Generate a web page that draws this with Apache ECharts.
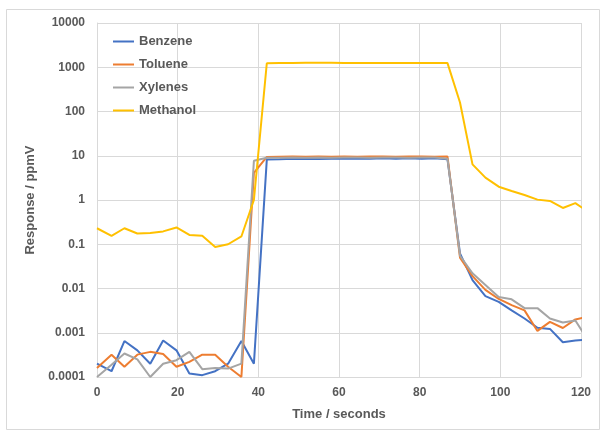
<!DOCTYPE html>
<html>
<head>
<meta charset="utf-8">
<script src="https://cdn.jsdelivr.net/npm/echarts@6/dist/echarts.min.js"></script>
<style>html,body{margin:0;padding:0;background:#fff}#chart{width:600px;height:430px}</style>
</head>
<body>
<div id="chart"></div>
<script>
const times = [0, 3.6, 6.8, 10.0, 13.2, 16.4, 19.7, 22.9, 26.1, 29.3, 32.5, 35.8, 38.9,
  42.1, 45.3, 48.5, 51.7, 54.9, 58.1, 61.3, 64.5, 67.7, 70.9, 74.1, 77.3, 80.5, 83.7, 86.9,
  90.0, 93.1, 96.3, 99.6, 102.8, 106.0, 109.2, 112.3, 115.5, 118.6, 121.8];

const benzene = [0.0002, 0.000135, 0.00065, 0.0004, 0.0002, 0.00067, 0.0004, 0.00012, 0.00011, 0.000135, 0.0002, 0.00065, 0.0002,
  8.2, 8.3, 8.6, 8.4, 8.4, 8.6, 8.6, 8.7, 8.6, 8.8, 8.5, 8.8, 8.5, 8.8, 8.3,
  0.062, 0.0155, 0.0067, 0.005, 0.0032, 0.0021, 0.0013, 0.00122, 0.00061, 0.00067, 0.0007];

const toluene = [0.00016, 0.00032, 0.00017, 0.00032, 0.00037, 0.00033, 0.00017, 0.00022, 0.00032, 0.00032, 0.00017, 0.0001, 4.1,
  9.4, 9.5, 9.6, 9.5, 9.6, 9.5, 9.6, 9.5, 9.6, 9.6, 9.5, 9.6, 9.6, 9.5, 9.6,
  0.05, 0.019, 0.0093, 0.0058, 0.0042, 0.0032, 0.0011, 0.00176, 0.00128, 0.002, 0.0023];

const xylenes = [0.0001, 0.00019, 0.00034, 0.00025, 0.0001, 0.0002, 0.00024, 0.00037, 0.00015, 0.00016, 0.000155, 0.0002, 7.7,
  9.0, 9.0, 9.1, 9.0, 9.1, 9.0, 9.1, 9.1, 9.0, 9.1, 9.1, 9.0, 9.1, 9.1, 8.6,
  0.055, 0.022, 0.012, 0.0064, 0.0057, 0.0036, 0.0036, 0.0021, 0.0017, 0.0019, 0.00066];

const methanol = [0.23, 0.155, 0.23, 0.175, 0.18, 0.195, 0.24, 0.162, 0.155, 0.087, 0.1, 0.15, 1.0,
  1230, 1240, 1240, 1260, 1260, 1260, 1250, 1240, 1240, 1240, 1240, 1240, 1250, 1240, 1240,
  160, 6.4, 3.2, 2.0, 1.6, 1.3, 1.02, 0.95, 0.66, 0.85, 0.54];

const seriesNames = ['Benzene', 'Toluene', 'Xylenes', 'Methanol'];
const seriesColors = ['#4472C4', '#ED7D31', '#A5A5A5', '#FFC000'];
const yTickLabels = ['0.0001', '0.001', '0.01', '0.1', '1', '10', '100', '1000', '10000'];
const xTitle = 'Time / seconds';
const yTitle = 'Response / ppmV';

const allValues = [benzene, toluene, xylenes, methanol];
const font = 'Liberation Sans';
const textColor = '#595959';
const gridColor = '#D9D9D9';

const chart = echarts.init(document.getElementById('chart'), null, {renderer: 'canvas'});
chart.setOption({
  animation: false,
  backgroundColor: '#fff',
  graphic: [{
    type: 'rect', shape: {x: 6.5, y: 9.5, width: 593, height: 420},
    style: {fill: 'none', stroke: gridColor, lineWidth: 1}, silent: true
  }],
  grid: {left: 97, right: 19, top: 23, bottom: 53, containLabel: false},
  legend: {
    orient: 'vertical', left: 108, top: 30, itemGap: 10,
    itemWidth: 21, itemHeight: 2, icon: 'rect',
    textStyle: {fontFamily: font, fontSize: 13, fontWeight: 'bold', color: textColor},
    data: seriesNames
  },
  xAxis: {
    type: 'value', min: 0, max: 120, interval: 20,
    name: xTitle, nameLocation: 'middle', nameGap: 31,
    nameTextStyle: {fontFamily: font, fontSize: 13, fontWeight: 'bold', color: textColor},
    axisLine: {show: true, lineStyle: {color: gridColor, width: 1}},
    axisTick: {show: false},
    axisLabel: {fontFamily: font, fontSize: 12, fontWeight: 'bold', color: textColor, margin: 10},
    splitLine: {show: true, lineStyle: {color: gridColor, width: 1}}
  },
  yAxis: {
    type: 'log', logBase: 10, min: 0.0001, max: 10000,
    name: yTitle, nameLocation: 'middle', nameGap: 60, nameRotate: 90,
    nameTextStyle: {fontFamily: font, fontSize: 13, fontWeight: 'bold', color: textColor},
    axisLine: {show: true, lineStyle: {color: gridColor, width: 1}},
    axisTick: {show: false},
    axisLabel: {
      fontFamily: font, fontSize: 12, fontWeight: 'bold', color: textColor, margin: 12,
      formatter: function (v) {
        const idx = Math.round(Math.log10(v)) + 4;
        return yTickLabels[idx] !== undefined ? yTickLabels[idx] : '';
      }
    },
    splitLine: {show: true, lineStyle: {color: gridColor, width: 1}}
  },
  series: seriesNames.map(function (name, i) {
    return {
      name: name, type: 'line', showSymbol: false, symbol: 'none', clip: true,
      color: seriesColors[i],
      lineStyle: {color: seriesColors[i], width: 2},
      data: times.map(function (t, j) { return [t, allValues[i][j]]; })
    };
  })
});
</script>
</body>
</html>
